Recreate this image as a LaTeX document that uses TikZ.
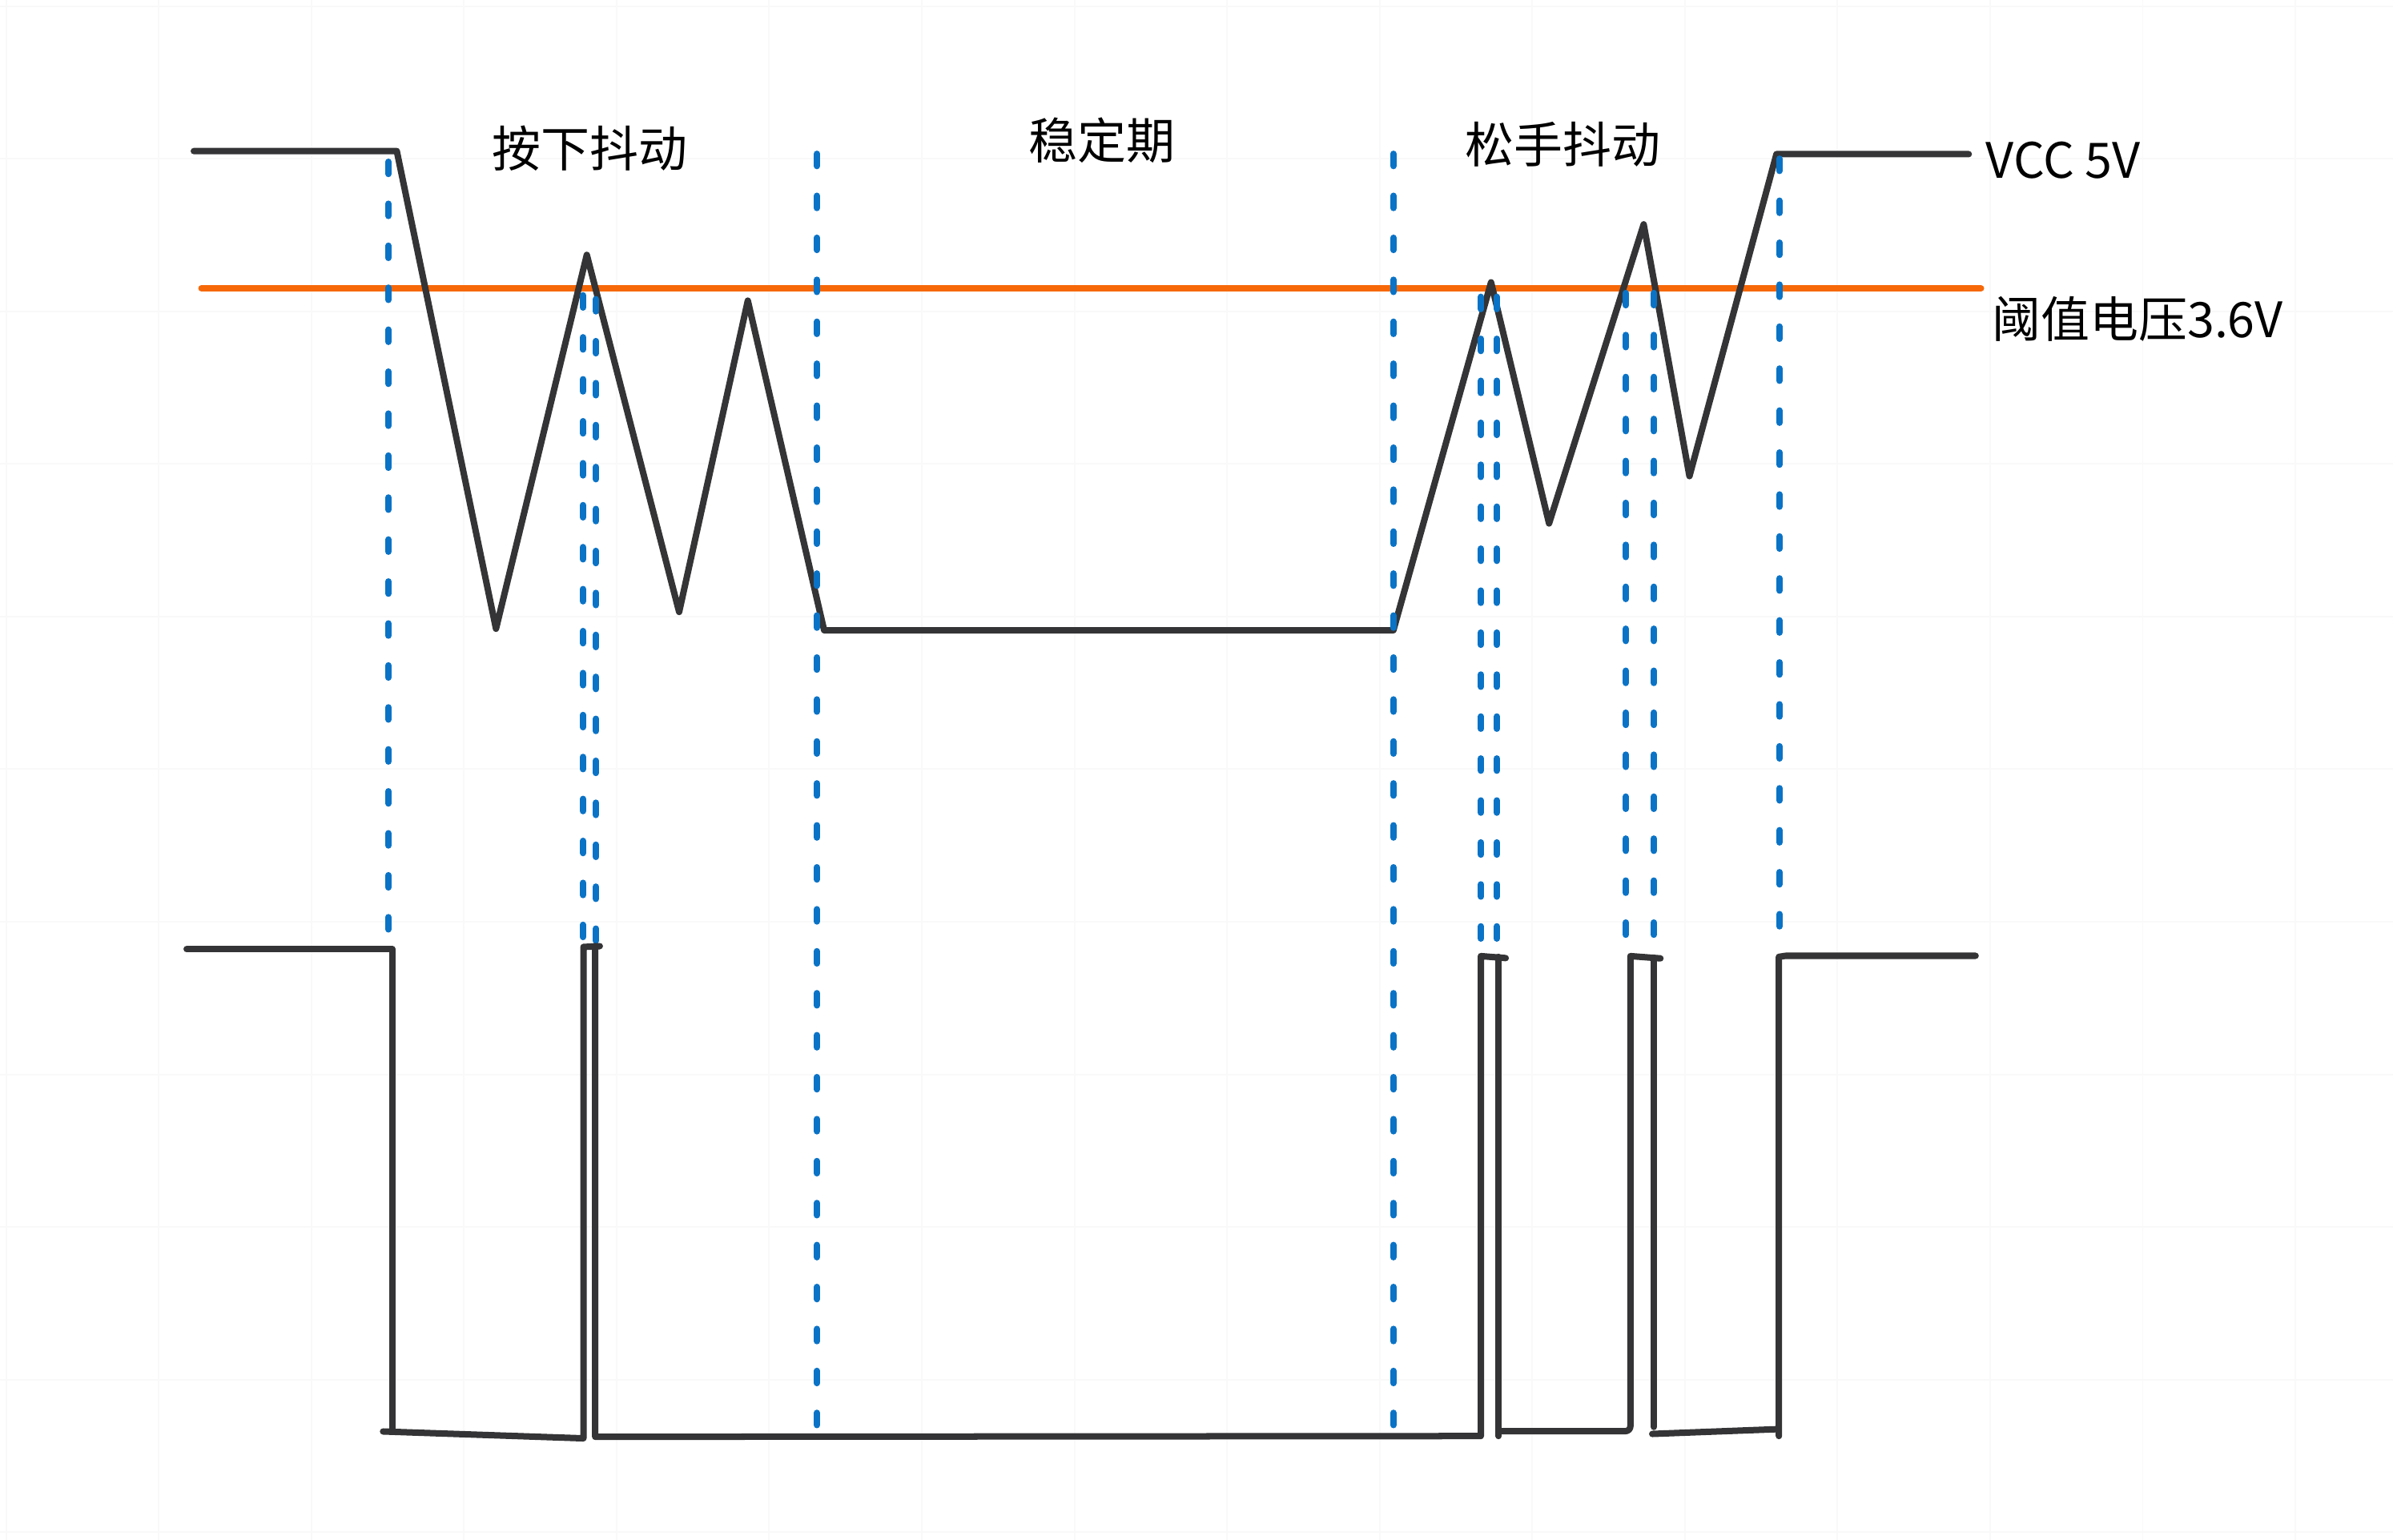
\documentclass[tikz,border=0pt]{standalone}
\usepackage{fontspec}
\newfontfamily\cjk{Noto Sans CJK SC}
\definecolor{wave}{RGB}{52,52,54}
\definecolor{thr}{RGB}{246,104,8}
\definecolor{mark}{RGB}{10,115,198}
\definecolor{gridc}{RGB}{249,249,249}
\tikzset{
  waveline/.style={draw=wave, line width=4.2pt, line cap=round, line join=round},
  thrline/.style={draw=thr, line width=4.2pt, line cap=round},
  markline/.style={draw=mark, line width=4.2pt, line cap=round, dash pattern=on 8pt off 19.5pt},
  lbl/.style={font=\cjk\fontsize{32}{36}\selectfont, text=black, inner sep=0pt},
  gridline/.style={draw=gridc, line width=1pt}
}
\begin{document}
\begin{tikzpicture}[x=1pt,y=-1pt]
\useasboundingbox[fill=white] (0,0) rectangle (1568,1009);
% faint background grid
\foreach \gx in {4,104,...,1504} {\draw[gridline] (\gx,0) -- (\gx,1009);}
\foreach \gy in {4,104,...,1004} {\draw[gridline] (0,\gy) -- (1568,\gy);}

% threshold line
\coordinate (thrA) at (132,189);
\coordinate (thrB) at (1298,189);
\draw[thrline] (thrA) -- (thrB);

% input (bouncing) waveform
\draw[waveline] (127,99) -- (260,99) -- (325,412) -- (384.5,167) -- (445,401)
  -- (490,197) -- (540,413) -- (913,413) -- (977,185) -- (1015,343)
  -- (1077,147) -- (1107,312) -- (1164,101) -- (1290,101);

% blue dashed markers
\draw[markline] (254.5,106) -- (254.5,617);
\draw[markline] (382,193.5) -- (382,620);
\draw[markline] (390.5,196) -- (390.5,620);
\draw[markline] (535.3,100.8) -- (535.3,940);
\draw[markline] (913,100.8) -- (913,940);
\draw[markline] (970.4,194.5) -- (970.4,623);
\draw[markline] (980.8,194.5) -- (980.8,623);
\draw[markline] (1065.3,192) -- (1065.3,623);
\draw[markline] (1083.7,192) -- (1083.7,623);
\draw[markline] (1166,104) -- (1166,620);

% output (digital) waveform
\draw[waveline] (122.3,622) -- (257,622) -- (257,937.6);
\draw[waveline] (251,938) -- (382.3,942.5) -- (382.3,620.5) -- (393,620);
\draw[waveline] (390,620) -- (390,941.5) -- (970.3,941) -- (970.3,626.5) -- (986.6,627.8);
\draw[waveline] (982,627) -- (982,941);
\draw[waveline] (982,937.8) -- (1065,937.8) to[out=0,in=-90] (1068.3,934.5) -- (1068.3,626.5) -- (1088,628);
\draw[waveline] (1083.7,627.5) -- (1083.7,935);
\draw[waveline] (1082.6,939.6) -- (1164.5,936.5);
\draw[waveline] (1165.6,941) -- (1165.6,627) -- (1170,626.3) -- (1294.5,626.3);

% labels
\node[lbl] (press) at (386.5,97) {按下抖动};
\node[lbl] (stable) at (722,92) {稳定期};
\node[lbl] (release) at (1024,94.5) {松手抖动};
\node[lbl, anchor=west] (vcc) at (1301,105) {VCC 5V};
\node[lbl, anchor=west] (vth) at (1305,209) {阈值电压3.6V};
\end{tikzpicture}
\end{document}
